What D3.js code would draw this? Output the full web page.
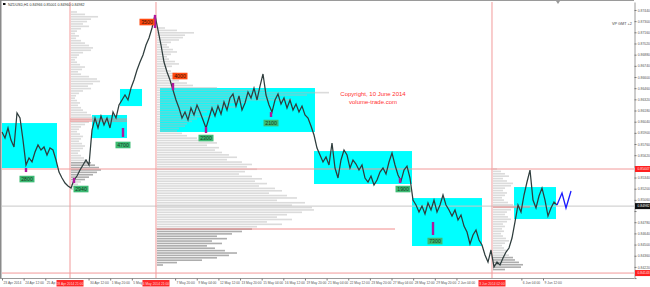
<!DOCTYPE html>
<html><head><meta charset="utf-8">
<script src="https://cdn.jsdelivr.net/npm/d3@7"></script>
<style>html,body{margin:0;padding:0;background:#fff;overflow:hidden}svg{display:block}text{font-family:"Liberation Sans",Arial,sans-serif}</style>
</head><body><svg id="c" width="650" height="287"></svg>
<script>
// ---- data (NZDUSD H1, one value every few bars) ----
const closes = [0.85911,0.85835,0.85961,0.85810,0.85723,0.86149,0.86086,0.85810,0.85497,0.85585,
0.85535,0.85660,0.85748,0.85685,0.85723,0.85622,0.85710,0.85685,0.85560,0.85409,
0.85334,0.85271,0.85234,0.85209,0.85309,0.85359,0.85434,0.85497,0.85560,0.85497,
0.85936,0.86086,0.85961,0.86111,0.85998,0.86086,0.85961,0.86161,0.86086,0.86249,
0.86312,0.86374,0.86312,0.86462,0.86562,0.86688,0.86788,0.86876,0.87001,0.87089,
0.87214,0.87377,0.87189,0.87001,0.86788,0.86663,0.86562,0.86437,0.86312,0.86211,
0.86086,0.86161,0.86061,0.86211,0.86124,0.86249,0.86161,0.86061,0.85961,0.86086,
0.86211,0.86111,0.86236,0.86136,0.86287,0.86186,0.86337,0.86387,0.86236,0.86362,
0.86186,0.86274,0.86412,0.86337,0.86462,0.86312,0.86487,0.86638,0.86374,0.86249,
0.86161,0.86312,0.86387,0.86261,0.86337,0.86211,0.86312,0.86186,0.86261,0.86161,
0.86236,0.86124,0.86086,0.85986,0.85873,0.85710,0.85622,0.85535,0.85597,0.85497,
0.85773,0.85459,0.85334,0.85560,0.85685,0.85622,0.85459,0.85560,0.85509,0.85434,
0.85497,0.85334,0.85284,0.85359,0.85246,0.85309,0.85409,0.85459,0.85384,0.85535,
0.85647,0.85497,0.85372,0.85296,0.85434,0.85484,0.85334,0.85058,0.84996,0.84908,
0.84983,0.84883,0.85021,0.84933,0.85058,0.84908,0.84996,0.85121,0.84996,0.84933,
0.84858,0.84933,0.84808,0.84870,0.84732,0.84657,0.84507,0.84620,0.84682,0.84557,
0.84494,0.84369,0.84281,0.84432,0.84218,0.84281,0.84244,0.84331,0.84406,0.84457,
0.84582,0.84783,0.84996,0.84908,0.85121,0.85284,0.85434,0.85058,0.84958,0.85108,
0.85209,0.85058,0.84858,0.84958,0.85033,0.84996];
const forecastIdx = [185, 186.67, 188, 189.67];
const forecastPrice = [0.84996, 0.85146, 0.84958, 0.85171];

const boxStart = [0, 30, 39.33, 52.67, 104, 136.67, 170.67];
const boxEnd   = [18.33, 41.67, 46.67, 104.33, 136.67, 160, 184.67];
const boxHigh  = [0.86023, 0.86124, 0.86450, 0.86462, 0.85672, 0.85083, 0.85221];
const boxLow   = [0.85459, 0.85835, 0.86236, 0.85911, 0.85259, 0.84482, 0.84820];

const vLineIdx = [22.67, 51.33, 163.33];
const vLineText = ["28 Apr 2014 21:00", "6 May 2014 21:00", "3 Jun 2014 02:00"];
const levelRed = [0.85447, 0.84143];
const levelRedText = ["0.85447", "0.84143"];
const lastPrice = 0.84982;

const pocStart = [22.67, 22.67, 51.33, 163.67];
const pocEnd   = [41.67, 41.67, 131, 176];
const pocPrice = [0.86073, 0.86048, 0.84695, 0.84970];

const markerIdx  = [8, 24, 40.33, 51, 57, 68, 89.67, 132.67, 143.67];
const markerHigh = [0.85459, 0.85334, 0.85961, 0.87377, 0.86525, 0.85973, 0.86161, 0.85334, 0.84783];
const markerLow  = [0.85409, 0.85271, 0.85848, 0.87214, 0.86437, 0.85898, 0.86099, 0.85271, 0.84620];

const tagText  = ["2800", "2940", "4700", "3500", "4000", "2300", "2100", "1900", "7300"];
const tagIdx   = [8.33, 26.33, 40.33, 48.33, 59.33, 68, 89.67, 133.67, 144.33];
const tagPrice = [0.85321, 0.85196, 0.85748, 0.87289, 0.86612, 0.85835, 0.86023, 0.85196, 0.84544];
const tagKind  = ["g", "g", "g", "o", "o", "g", "g", "g", "g"];

const profStep = 0.0003;
const prof1Idx = 22.67, prof1Top = 0.87415, prof1Dark = [63, 70];
const prof1Vol = [6,14,27,20,16,12,18,10,6,4,8,5,10,14,18,22,20,12,8,6,4,6,9,14,11,7,10,18,26,29,22,17,20,12,8,5,4,6,9,7,10,12,16,20,24,22,18,14,10,8,6,9,12,10,8,11,14,12,9,7,10,13,16,20,24,28,30,26,22,18,14,10,7,4,2];
const prof2Idx = 51.33, prof2Top = 0.87214, prof2Dark = [84, 99];
const prof2Vol = [8,20,37,28,26,22,14,10,12,16,20,14,10,12,18,22,15,10,14,20,26,18,22,30,36,60,110,172,150,120,135,90,70,80,60,50,45,55,40,35,30,28,22,20,25,30,40,55,60,50,62,58,65,72,80,70,85,95,90,100,88,82,95,105,98,110,102,118,125,112,130,140,120,148,135,155,157,145,130,120,135,110,125,100,95,85,75,60,70,55,65,50,58,68,80,72,60,45,20,6];
const prof3Idx = 163.33, prof3Top = 0.85447, prof3Dark = [37, 42];
const prof3Vol = [4,8,12,16,10,14,20,18,12,10,14,12,9,11,15,20,24,18,14,12,15,18,14,10,12,9,11,8,10,13,16,12,9,11,14,12,16,20,22,26,30,28,12];

const priceTicks = [0.87440,0.87300,0.87160,0.87020,0.86880,0.86740,0.86600,0.86460,0.86320,0.86180,0.86040,0.85900,0.85760,0.85620,0.85480,0.85340,0.85200,0.85060,0.84920,0.84780,0.84640,0.84500,0.84360,0.84220,0.84080];
const timeLabels = ["23 Apr 2014","24 Apr 12:00","25 Apr 20:00","29 Apr 04:00","30 Apr 12:00","1 May 20:00","5 May 04:00","6 May 12:00","7 May 20:00","9 May 04:00","12 May 12:00","13 May 20:00","15 May 04:00","16 May 12:00","19 May 20:00","21 May 04:00","22 May 12:00","23 May 20:00","27 May 04:00","28 May 12:00","29 May 20:00","2 Jun 04:00","3 Jun 12:00","4 Jun 20:00","6 Jun 04:00","9 Jun 12:00"];

// ---- scales ----
const svg = d3.select("#c");
const plotL = 2, plotR = 634, plotT = 2, plotB = 278;
const x = d3.scaleLinear().domain([0, 185]).range([2, 557]);
const y = d3.scaleLinear().domain([0.84081, 0.87540]).range([plotB, plotT]);
const vol = d3.scaleLinear().domain([0, 100]).range([0, 100]);
const xt = d3.scalePoint().domain(timeLabels).range([2, 543]);

svg.append("rect").attr("width", 650).attr("height", 287).attr("fill", "#fff");

// boxes
svg.append("g").selectAll("rect").data(boxStart).join("rect")
  .attr("x", (d, i) => x(d)).attr("width", (d, i) => x(boxEnd[i]) - x(d))
  .attr("y", (d, i) => y(boxHigh[i])).attr("height", (d, i) => y(boxLow[i]) - y(boxHigh[i]))
  .attr("fill", "#00ffff");

// volume profiles
function profile(idx, top, vols, dark) {
  const g = svg.append("g");
  const isDark = k => k >= dark[0] && k <= dark[1];
  g.selectAll("rect").data(vols).join("rect")
    .attr("x", x(idx) + 1)
    .attr("y", (d, k) => y(top - k * profStep) - 0.8)
    .attr("width", d => vol(d))
    .attr("height", 1.6)
    .attr("fill", (d, k) => isDark(k) ? "#8a8a8a" : "#b8b8b8")
    .attr("opacity", (d, k) => isDark(k) ? 0.7 : 0.5);
}
profile(prof1Idx, prof1Top, prof1Vol, prof1Dark);
profile(prof2Idx, prof2Top, prof2Vol, prof2Dark);
profile(prof3Idx, prof3Top, prof3Vol, prof3Dark);

// horizontal levels
svg.append("line").attr("x1", plotL).attr("x2", plotR).attr("y1", y(lastPrice)).attr("y2", y(lastPrice))
  .attr("stroke", "#c8c8c8").attr("stroke-width", 1);
svg.append("g").selectAll("line").data(levelRed).join("line")
  .attr("x1", plotL).attr("x2", plotR).attr("y1", d => y(d)).attr("y2", d => y(d))
  .attr("stroke", "#f29a9a").attr("stroke-width", 1);
svg.append("g").selectAll("line").data(pocPrice).join("line")
  .attr("x1", (d, i) => x(pocStart[i])).attr("x2", (d, i) => x(pocEnd[i]))
  .attr("y1", d => y(d)).attr("y2", d => y(d))
  .attr("stroke", "#f08080").attr("stroke-width", 0.9);

// vertical lines
svg.append("g").selectAll("line").data(vLineIdx).join("line")
  .attr("x1", d => x(d)).attr("x2", d => x(d)).attr("y1", plotT).attr("y2", plotB)
  .attr("stroke", "#f29a9a").attr("stroke-width", 1);

// price line
svg.append("path").datum(closes)
  .attr("d", d3.line().x((d, i) => x(i)).y(d => y(d)))
  .attr("fill", "none").attr("stroke", "#2f3d3d").attr("stroke-width", 1.25).attr("stroke-linejoin", "miter");

// forecast
svg.append("path").datum(forecastPrice)
  .attr("d", d3.line().x((d, i) => x(forecastIdx[i])).y(d => y(d)))
  .attr("fill", "none").attr("stroke", "#1a1aff").attr("stroke-width", 1.3);

// markers
svg.append("g").selectAll("rect").data(markerIdx).join("rect")
  .attr("x", d => x(d) - 1.2).attr("width", 2.4)
  .attr("y", (d, i) => y(markerHigh[i])).attr("height", (d, i) => y(markerLow[i]) - y(markerHigh[i]))
  .attr("fill", "#b0189e");

// tags
const tg = svg.append("g").selectAll("g").data(tagText).join("g")
  .attr("transform", (d, i) => `translate(${x(tagIdx[i])},${y(tagPrice[i])})`);
tg.append("rect").attr("x", -7.5).attr("y", -3.3).attr("width", 15).attr("height", 6.6)
  .attr("fill", (d, i) => tagKind[i] === "g" ? "#3dbb74" : "#ff4a12");
tg.append("text").text(d => d).attr("text-anchor", "middle").attr("y", 2)
  .attr("font-size", 5.2).attr("fill", (d, i) => tagKind[i] === "g" ? "#143a20" : "#3a1200");

// frame
svg.append("line").attr("x1", 0).attr("x2", plotR).attr("y1", 0.5).attr("y2", 0.5).attr("stroke", "#9a9a9a");
svg.append("line").attr("x1", 0.75).attr("x2", 0.75).attr("y1", 0).attr("y2", plotB).attr("stroke", "#8a8a8a").attr("stroke-width", 1.5);
svg.append("line").attr("x1", 0).attr("x2", plotR).attr("y1", plotB + 0.5).attr("y2", plotB + 0.5).attr("stroke", "#9a9a9a");

// right axis (tick labels hidden behind the level labels are skipped)
const flagPrices = levelRed.concat([lastPrice]);
const ya = svg.append("g").attr("transform", `translate(${plotR + 0.5},0)`)
  .call(d3.axisRight(y).tickValues(priceTicks).tickSize(2).tickSizeOuter(0).tickPadding(1.2).tickFormat(d3.format(".5f")));
ya.select(".domain").attr("stroke", "#9a9a9a");
ya.selectAll(".tick line").attr("stroke", "#777");
ya.selectAll(".tick text").attr("font-size", 3.4).attr("fill", "#555").attr("font-family", "Liberation Sans, Arial, sans-serif")
  .attr("display", d => flagPrices.some(p => Math.abs(y(p) - y(d)) < 5.5) ? "none" : null);

// bottom axis (labels under the red time labels are clipped by them)
const redX = vLineIdx.map(v => x(v));
const visibleTimes = timeLabels.filter(t => !redX.some(rx => xt(t) > rx - 16 && xt(t) < rx + 8));
const xa = svg.append("g").attr("transform", `translate(0,${plotB + 0.5})`)
  .call(d3.axisBottom(xt).tickValues(visibleTimes).tickSize(2).tickSizeOuter(0).tickPadding(1.5));
xa.select(".domain").remove();
xa.selectAll(".tick line").attr("stroke", "#777");
xa.selectAll(".tick text").attr("font-size", 3.3).attr("fill", "#555").attr("text-anchor", "start").attr("x", 1)
  .attr("font-family", "Liberation Sans, Arial, sans-serif")
  .text(function (d) {
    const left = xt(d) + 1;
    const next = redX.find(rx => rx - 13.5 > left && rx - 13.5 < left + 16);
    if (next === undefined) return d;
    const room = next - 13.5 - left;
    const n = Math.max(1, Math.floor(room / 1.75));
    return d.slice(0, n);
  });

// red time labels
const rt = svg.append("g").selectAll("g").data(vLineIdx).join("g")
  .attr("transform", d => `translate(${x(d)},${plotB + 2})`);
rt.append("rect").attr("x", -13.5).attr("y", 0).attr("width", 27).attr("height", 6.5).attr("fill", "#ff2a2a");
rt.append("text").text((d, i) => vLineText[i]).attr("text-anchor", "middle").attr("y", 4.6)
  .attr("font-size", 3.3).attr("fill", "#ffd8d8");

// price labels on axis
const pl = svg.append("g").selectAll("g").data(levelRed).join("g")
  .attr("transform", d => `translate(${plotR + 1},${y(d)})`);
pl.append("rect").attr("x", 0).attr("y", -3).attr("width", 16).attr("height", 6).attr("fill", "#ff2020");
pl.append("text").text((d, i) => levelRedText[i]).attr("x", 2.5).attr("y", 1.3).attr("font-size", 3.4).attr("fill", "#ffe0e0");
const cur = svg.append("g").attr("transform", `translate(${plotR + 1},${y(lastPrice)})`);
cur.append("rect").attr("x", 0).attr("y", -3).attr("width", 16).attr("height", 6).attr("fill", "#111");
cur.append("text").text(d3.format(".5f")(lastPrice)).attr("x", 2.5).attr("y", 1.3).attr("font-size", 3.4).attr("fill", "#fff");

// texts
svg.append("rect").attr("x", 3).attr("y", 3).attr("width", 2.5).attr("height", 2).attr("fill", "#111");
svg.append("text").text("NZDUSD,H1  0.84966 0.85001 0.84960 0.84982").attr("x", 8).attr("y", 5.6)
  .attr("font-size", 3.6).attr("fill", "#333");
svg.append("text").text("VP GMT +2").attr("x", 612).attr("y", 25).attr("font-size", 3.8).attr("fill", "#444");
svg.append("path").attr("d", "M556,1 L560,1 L558,4 Z").attr("fill", "#999");
svg.append("text").text("Copyright, 10 June 2014").attr("x", 373).attr("y", 95.5)
  .attr("text-anchor", "middle").attr("font-size", 6).attr("fill", "#ff3030");
svg.append("text").text("volume-trade.com").attr("x", 373).attr("y", 104)
  .attr("text-anchor", "middle").attr("font-size", 6).attr("fill", "#ff3030");
</script></body></html>
